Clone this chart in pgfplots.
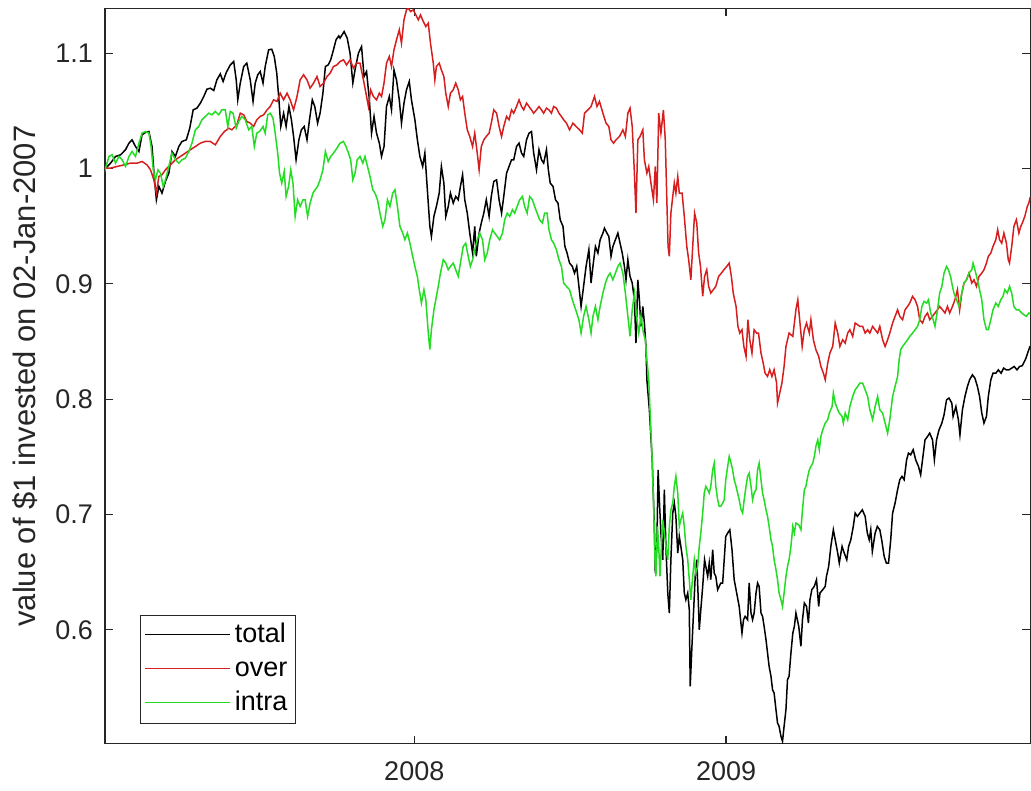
\documentclass[border=0pt]{standalone}
\usepackage{fontspec}
\setmainfont{Liberation Sans}
\usepackage{pgfplots}
\pgfplotsset{compat=1.18}
\definecolor{axgray}{RGB}{38,38,38}
\definecolor{cred}{RGB}{215,30,30}
\definecolor{cgreen}{RGB}{35,220,35}
\begin{document}
\begin{tikzpicture}
\begin{axis}[
  scale only axis,
  width=463pt, height=368pt,
  xmin=2007.008, xmax=2009.976,
  ymin=0.501, ymax=1.139,
  axis line style={axgray, line width=0.6pt},
  tick style={axgray, line width=0.6pt},
  tick align=inside,
  major tick length=4pt,
  xtick={2008,2009}, xticklabels={2008,2009},
  ytick={0.6,0.7,0.8,0.9,1,1.1}, yticklabels={0.6,0.7,0.8,0.9,1,1.1},
  ticklabel style={font=\fontsize{13.5}{16}\selectfont, text=axgray},
  yticklabel style={xshift=-2.5pt},
  xticklabel style={yshift=-5.5pt},
  ylabel={value of \$1 invested on 02-Jan-2007},
  ylabel style={font=\fontsize{15.5}{18}\selectfont, text=axgray, at={(axis description cs:-0.0745,0.5)}, anchor=base},
  legend image code/.code={\draw[#1] (0pt,0.5pt) -- (42.5pt,0.5pt);},
  legend style={at={(axis description cs:0.0378,0.0272)}, anchor=south west,
    draw=axgray, line width=0.6pt, fill=white,
    font=\fontsize{13.5}{16}\selectfont,
    inner xsep=2pt, inner ysep=1.5pt, cells={anchor=west},
    nodes={inner xsep=2pt, inner ysep=2pt, text height=10.2pt, text depth=2.8pt}},
]
\addplot[draw=black, line width=0.75pt] coordinates {
(2007.005,0.9989)(2007.026,1.0047)(2007.042,1.0105)(2007.058,1.0119)(2007.074,1.0163)(2007.085,1.0220)(2007.095,1.0249)(2007.106,1.0191)(2007.117,1.0148)(2007.127,1.0293)(2007.138,1.0313)(2007.149,1.0321)(2007.159,1.0191)(2007.167,0.9902)(2007.173,0.9729)(2007.181,0.9845)(2007.191,0.9787)(2007.202,0.9888)(2007.213,0.9960)(2007.223,1.0148)(2007.234,1.0105)(2007.245,1.0191)(2007.255,1.0235)(2007.269,1.0249)(2007.280,1.0350)(2007.291,1.0509)(2007.303,1.0524)(2007.314,1.0567)(2007.325,1.0625)(2007.335,1.0688)(2007.346,1.0697)(2007.357,1.0677)(2007.367,1.0769)(2007.378,1.0821)(2007.387,1.0755)(2007.397,1.0833)(2007.410,1.0899)(2007.421,1.0928)(2007.429,1.0769)(2007.434,1.0596)(2007.442,1.0741)(2007.453,1.0885)(2007.463,1.0914)(2007.474,1.0769)(2007.483,1.0582)(2007.490,1.0741)(2007.498,1.0813)(2007.506,1.0842)(2007.515,1.0741)(2007.522,1.0885)(2007.533,1.1030)(2007.543,1.1035)(2007.551,1.0972)(2007.559,1.0827)(2007.566,1.0596)(2007.572,1.0365)(2007.581,1.0480)(2007.589,1.0365)(2007.598,1.0538)(2007.606,1.0423)(2007.613,1.0278)(2007.621,1.0076)(2007.630,1.0249)(2007.638,1.0336)(2007.647,1.0365)(2007.656,1.0249)(2007.664,1.0423)(2007.673,1.0596)(2007.681,1.0538)(2007.690,1.0394)(2007.698,1.0480)(2007.707,1.0654)(2007.715,1.0885)(2007.724,1.0899)(2007.732,1.0943)(2007.741,1.1030)(2007.749,1.1116)(2007.758,1.1151)(2007.762,1.1131)
(2007.775,1.1188)(2007.785,1.1131)(2007.794,1.1001)(2007.803,1.0741)(2007.810,1.0856)(2007.821,1.1001)(2007.831,1.1058)(2007.839,1.0798)(2007.847,1.0842)(2007.856,1.0596)(2007.863,1.0307)(2007.871,1.0452)(2007.879,1.0307)(2007.888,1.0220)(2007.895,1.0105)(2007.903,1.0191)(2007.911,1.0538)(2007.920,1.0625)(2007.927,1.0509)(2007.935,1.0856)(2007.943,1.0769)(2007.952,1.0596)(2007.959,1.0394)(2007.967,1.0567)(2007.975,1.0683)(2007.984,1.0755)(2007.991,1.0596)(2008.002,1.0423)(2008.010,1.0249)(2008.018,1.0105)(2008.027,1.0018)(2008.034,1.0134)(2008.042,0.9816)(2008.050,0.9498)(2008.055,0.9411)(2008.063,0.9585)(2008.071,0.9671)(2008.080,0.9787)(2008.087,1.0018)(2008.095,0.9874)(2008.101,0.9585)(2008.109,0.9671)(2008.116,0.9787)(2008.125,0.9700)(2008.133,0.9758)(2008.141,0.9729)(2008.148,0.9845)(2008.155,0.9946)(2008.162,0.9729)(2008.170,0.9613)(2008.178,0.9440)(2008.187,0.9267)(2008.194,0.9498)(2008.199,0.9238)(2008.208,0.9440)(2008.215,0.9527)(2008.223,0.9613)(2008.231,0.9729)(2008.240,0.9585)(2008.247,0.9758)(2008.255,0.9888)(2008.264,0.9902)(2008.272,0.9729)(2008.280,0.9613)(2008.287,0.9758)(2008.296,0.9960)(2008.304,1.0018)(2008.312,1.0076)(2008.319,1.0076)(2008.328,1.0191)(2008.336,1.0220)(2008.344,1.0134)(2008.351,1.0105)(2008.360,1.0249)(2008.368,1.0307)(2008.376,1.0321)(2008.383,1.0134)(2008.392,0.9989)(2008.400,1.0163)(2008.408,1.0076)(2008.415,1.0047)(2008.424,1.0163)(2008.430,0.9989)(2008.436,0.9874)(2008.445,0.9845)(2008.453,0.9729)(2008.461,0.9700)(2008.468,0.9556)(2008.477,0.9498)(2008.483,0.9325)(2008.490,0.9267)(2008.498,0.9180)
(2008.507,0.9151)(2008.514,0.9093)(2008.521,0.9151)(2008.528,0.8978)(2008.535,0.8804)(2008.543,0.8978)(2008.551,0.9151)(2008.560,0.9296)(2008.567,0.9007)(2008.573,0.9151)(2008.581,0.9324)(2008.589,0.9267)(2008.596,0.9382)(2008.605,0.9440)(2008.610,0.9483)(2008.618,0.9440)(2008.624,0.9411)(2008.631,0.9238)(2008.637,0.9324)(2008.645,0.9382)(2008.653,0.9440)(2008.660,0.9353)(2008.667,0.9267)(2008.674,0.9151)(2008.679,0.9035)(2008.685,0.9209)(2008.692,0.9064)(2008.699,0.9007)(2008.706,0.8862)(2008.711,0.8486)(2008.717,0.9035)(2008.722,0.8862)(2008.727,0.8631)(2008.733,0.8804)(2008.738,0.8660)(2008.743,0.8457)
(2008.746,0.8168)(2008.754,0.7907)(2008.763,0.7474)(2008.770,0.6896)(2008.773,0.6491)(2008.778,0.6723)(2008.782,0.7387)(2008.786,0.7127)(2008.791,0.6838)(2008.797,0.6607)(2008.802,0.7214)(2008.807,0.6723)(2008.813,0.6318)(2008.818,0.6145)(2008.823,0.6607)(2008.829,0.7012)(2008.834,0.7098)(2008.839,0.6983)(2008.845,0.6665)(2008.850,0.6809)(2008.855,0.6723)(2008.861,0.6607)(2008.866,0.6318)(2008.871,0.6260)(2008.877,0.6318)(2008.882,0.6174)(2008.885,0.5509)(2008.891,0.5885)(2008.896,0.6174)(2008.901,0.6463)(2008.906,0.6607)(2008.910,0.6318)(2008.914,0.6000)(2008.919,0.6174)(2008.925,0.6376)(2008.931,0.6607)(2008.935,0.6549)(2008.941,0.6463)(2008.946,0.6578)(2008.951,0.6434)(2008.957,0.6694)(2008.962,0.6491)(2008.967,0.6463)(2008.973,0.6347)(2008.978,0.6376)(2008.983,0.6405)(2008.989,0.6405)(2008.994,0.6607)(2008.999,0.6809)(2009.005,0.6838)(2009.012,0.6867)(2009.019,0.6694)(2009.026,0.6434)(2009.034,0.6318)(2009.042,0.6202)(2009.051,0.5971)(2009.056,0.6087)(2009.061,0.6116)(2009.069,0.6087)(2009.074,0.6405)(2009.080,0.6145)(2009.085,0.6087)(2009.090,0.6145)(2009.096,0.6318)(2009.101,0.6405)(2009.106,0.6376)(2009.112,0.6145)(2009.117,0.6116)(2009.122,0.6029)(2009.128,0.5913)(2009.133,0.5798)(2009.138,0.5682)(2009.144,0.5596)(2009.149,0.5480)(2009.154,0.5451)(2009.160,0.5307)(2009.165,0.5191)(2009.170,0.5162)(2009.176,0.5075)(2009.181,0.5032)(2009.186,0.5162)(2009.192,0.5307)(2009.197,0.5567)(2009.202,0.5596)
(2009.208,0.5798)(2009.214,0.5971)(2009.219,0.6029)(2009.224,0.6145)(2009.233,0.6029)(2009.240,0.5856)(2009.245,0.6087)(2009.251,0.6231)(2009.258,0.6202)(2009.264,0.6058)(2009.269,0.6260)(2009.275,0.6347)(2009.283,0.6376)(2009.290,0.6434)(2009.297,0.6202)(2009.301,0.6318)(2009.310,0.6347)(2009.318,0.6376)(2009.322,0.6463)(2009.329,0.6549)(2009.336,0.6723)(2009.344,0.6867)(2009.350,0.6780)(2009.358,0.6665)(2009.363,0.6578)(2009.372,0.6723)(2009.379,0.6665)(2009.387,0.6607)(2009.393,0.6723)(2009.400,0.6780)(2009.408,0.6896)(2009.414,0.7012)(2009.421,0.6983)(2009.429,0.7012)(2009.437,0.7040)(2009.446,0.6983)(2009.453,0.6838)(2009.459,0.6780)(2009.464,0.6867)(2009.469,0.6679)(2009.478,0.6838)(2009.485,0.6896)(2009.493,0.6867)(2009.499,0.6780)(2009.507,0.6636)(2009.514,0.6578)(2009.521,0.6578)(2009.528,0.6780)(2009.534,0.7012)(2009.542,0.7098)(2009.550,0.7214)(2009.557,0.7301)(2009.564,0.7330)(2009.571,0.7301)(2009.579,0.7474)(2009.585,0.7532)(2009.592,0.7517)(2009.600,0.7561)(2009.608,0.7474)(2009.617,0.7416)(2009.624,0.7344)(2009.630,0.7474)(2009.638,0.7647)(2009.646,0.7676)(2009.653,0.7705)(2009.662,0.7647)(2009.668,0.7474)(2009.675,0.7647)(2009.683,0.7734)(2009.692,0.7792)(2009.699,0.7864)(2009.707,0.7994)(2009.715,0.8009)(2009.724,0.7965)(2009.728,0.7850)(2009.737,0.7936)(2009.745,0.7821)(2009.750,0.7691)(2009.758,0.7908)(2009.766,0.8023)(2009.774,0.8110)(2009.781,0.8168)(2009.790,0.8211)(2009.798,0.8182)(2009.806,0.8110)(2009.813,0.8023)(2009.820,0.7879)(2009.827,0.7792)(2009.835,0.7850)(2009.841,0.8023)(2009.849,0.8168)(2009.856,0.8225)(2009.865,0.8225)(2009.873,0.8254)(2009.882,0.8225)(2009.890,0.8269)(2009.899,0.8254)(2009.907,0.8254)(2009.916,0.8269)(2009.924,0.8283)(2009.933,0.8254)(2009.941,0.8283)(2009.950,0.8290)(2009.961,0.8350)(2009.971,0.8430)(2009.975,0.8460)
};
\addlegendentry{total}
\addplot[draw=cred, line width=0.75pt] coordinates {
(2007.005,1.0004)(2007.026,1.0004)(2007.047,1.0018)(2007.069,1.0032)(2007.090,1.0047)(2007.111,1.0047)(2007.127,1.0061)(2007.143,1.0032)(2007.154,0.9989)(2007.165,0.9902)(2007.173,0.9787)(2007.181,0.9931)(2007.191,0.9946)(2007.202,0.9989)(2007.218,1.0032)(2007.234,1.0076)(2007.250,1.0105)(2007.266,1.0134)(2007.282,1.0163)(2007.298,1.0191)(2007.314,1.0220)(2007.330,1.0235)(2007.346,1.0235)(2007.362,1.0206)(2007.378,1.0278)(2007.391,1.0321)(2007.405,1.0350)(2007.415,1.0336)(2007.431,1.0379)(2007.442,1.0480)(2007.453,1.0466)(2007.463,1.0408)(2007.474,1.0394)(2007.485,1.0365)(2007.495,1.0423)(2007.506,1.0452)(2007.517,1.0466)(2007.528,1.0509)(2007.538,1.0538)(2007.549,1.0596)(2007.560,1.0582)(2007.570,1.0654)(2007.581,1.0596)(2007.592,1.0654)(2007.602,1.0596)(2007.613,1.0509)(2007.624,1.0625)(2007.634,1.0769)(2007.645,1.0813)(2007.656,1.0769)(2007.666,1.0697)(2007.677,1.0741)(2007.688,1.0798)(2007.698,1.0712)(2007.709,1.0741)(2007.720,1.0798)(2007.730,1.0827)(2007.741,1.0885)(2007.752,1.0899)(2007.762,1.0928)
(2007.773,1.0943)(2007.783,1.0899)(2007.794,1.0943)(2007.805,1.0871)(2007.815,1.0914)(2007.826,1.0914)(2007.837,1.0769)(2007.845,1.0654)(2007.853,1.0538)(2007.860,1.0683)(2007.869,1.0625)(2007.879,1.0596)(2007.888,1.0654)(2007.895,1.0625)(2007.903,1.0741)(2007.911,1.0914)(2007.920,1.0972)(2007.927,1.0885)(2007.935,1.1030)(2007.943,1.1116)(2007.952,1.1203)(2007.959,1.1087)(2007.967,1.1290)(2007.975,1.1376)(2007.981,1.1391)(2007.988,1.1362)(2007.997,1.1376)(2008.005,1.1333)(2008.013,1.1290)(2008.020,1.1333)(2008.029,1.1275)(2008.037,1.1232)(2008.045,1.1261)(2008.052,1.1087)(2008.061,1.0914)(2008.066,1.0769)(2008.071,1.0885)(2008.080,1.0914)(2008.087,1.0856)(2008.095,1.0798)(2008.101,1.0654)(2008.109,1.0538)(2008.116,1.0654)(2008.125,1.0683)(2008.133,1.0741)(2008.141,1.0683)(2008.148,1.0596)(2008.155,1.0625)(2008.162,1.0480)(2008.170,1.0336)(2008.178,1.0278)(2008.187,1.0191)(2008.194,1.0307)(2008.202,1.0134)(2008.208,0.9989)(2008.215,1.0191)(2008.223,1.0249)(2008.231,1.0278)(2008.240,1.0307)(2008.247,1.0394)(2008.255,1.0509)(2008.264,1.0480)(2008.272,1.0365)(2008.280,1.0278)(2008.287,1.0365)(2008.296,1.0452)(2008.304,1.0423)(2008.312,1.0509)(2008.319,1.0480)(2008.328,1.0538)(2008.336,1.0596)(2008.344,1.0538)(2008.351,1.0509)(2008.360,1.0567)(2008.368,1.0538)(2008.376,1.0509)(2008.383,1.0480)(2008.392,1.0509)(2008.400,1.0538)(2008.408,1.0509)(2008.415,1.0480)(2008.424,1.0524)(2008.432,1.0509)(2008.440,1.0480)(2008.447,1.0538)(2008.456,1.0524)(2008.464,1.0480)(2008.472,1.0452)(2008.479,1.0423)(2008.488,1.0394)(2008.498,1.0336)
(2008.509,1.0394)(2008.519,1.0365)(2008.530,1.0336)(2008.539,1.0307)(2008.546,1.0480)(2008.557,1.0509)(2008.567,1.0538)(2008.578,1.0625)(2008.586,1.0538)(2008.594,1.0582)(2008.605,1.0480)(2008.615,1.0394)(2008.624,1.0365)(2008.631,1.0249)(2008.639,1.0220)(2008.647,1.0249)(2008.658,1.0278)(2008.669,1.0336)(2008.677,1.0278)(2008.685,1.0480)(2008.692,1.0524)(2008.699,1.0365)(2008.706,0.9960)(2008.711,0.9613)(2008.717,1.0249)(2008.724,1.0278)(2008.733,1.0336)(2008.738,1.0076)(2008.746,0.9960)(2008.752,1.0018)(2008.759,0.9874)(2008.767,0.9729)(2008.773,1.0018)(2008.778,0.9700)(2008.784,1.0480)(2008.791,1.0307)(2008.799,1.0509)(2008.805,1.0249)(2008.810,0.9729)(2008.814,0.9324)(2008.818,0.9238)(2008.823,0.9613)(2008.829,0.9758)(2008.834,0.9874)(2008.839,0.9787)(2008.845,0.9931)(2008.850,0.9787)(2008.859,0.9787)(2008.866,0.9585)(2008.874,0.9324)(2008.880,0.9209)(2008.887,0.9035)(2008.893,0.9324)(2008.899,0.9613)(2008.906,0.9527)(2008.912,0.9267)(2008.918,0.9151)(2008.925,0.8891)(2008.931,0.9064)(2008.938,0.9122)(2008.944,0.8978)(2008.951,0.8920)(2008.959,0.8949)(2008.967,0.8978)(2008.976,0.9064)(2008.985,0.9093)(2008.993,0.9122)(2009.002,0.9151)(2009.010,0.9180)(2009.017,0.9064)(2009.023,0.8920)(2009.032,0.8804)(2009.038,0.8631)(2009.044,0.8573)(2009.051,0.8602)(2009.057,0.8457)(2009.064,0.8371)(2009.070,0.8689)(2009.076,0.8515)(2009.083,0.8400)(2009.090,0.8602)(2009.098,0.8573)(2009.104,0.8573)(2009.112,0.8400)(2009.119,0.8313)(2009.125,0.8226)(2009.133,0.8197)(2009.140,0.8255)(2009.147,0.8197)(2009.154,0.8255)(2009.162,0.8139)(2009.165,0.7965)(2009.172,0.8052)(2009.179,0.8139)(2009.186,0.8283)(2009.192,0.8457)(2009.202,0.8573)
(2009.214,0.8544)(2009.224,0.8775)(2009.230,0.8862)(2009.235,0.8718)(2009.244,0.8457)(2009.251,0.8602)(2009.258,0.8660)(2009.267,0.8573)(2009.272,0.8689)(2009.280,0.8515)(2009.288,0.8429)(2009.297,0.8371)(2009.304,0.8284)(2009.312,0.8226)(2009.318,0.8168)(2009.326,0.8313)(2009.333,0.8400)(2009.342,0.8457)(2009.350,0.8660)(2009.358,0.8573)(2009.365,0.8457)(2009.374,0.8515)(2009.382,0.8486)(2009.390,0.8573)(2009.397,0.8602)(2009.406,0.8544)(2009.414,0.8660)(2009.422,0.8645)(2009.429,0.8631)(2009.438,0.8631)(2009.446,0.8573)(2009.454,0.8602)(2009.461,0.8573)(2009.470,0.8631)(2009.478,0.8602)(2009.486,0.8573)(2009.493,0.8631)(2009.502,0.8515)(2009.510,0.8457)(2009.518,0.8515)(2009.525,0.8573)(2009.534,0.8660)(2009.542,0.8718)(2009.550,0.8775)(2009.557,0.8718)(2009.566,0.8689)(2009.574,0.8775)(2009.582,0.8804)(2009.589,0.8833)(2009.598,0.8891)(2009.606,0.8862)(2009.614,0.8804)(2009.621,0.8689)(2009.630,0.8660)(2009.638,0.8718)(2009.646,0.8747)(2009.653,0.8689)(2009.662,0.8718)(2009.670,0.8747)(2009.678,0.8775)(2009.685,0.8804)(2009.694,0.8775)(2009.702,0.8747)(2009.710,0.8804)(2009.717,0.8747)(2009.726,0.8804)(2009.734,0.8862)(2009.742,0.8949)(2009.749,0.8775)(2009.756,0.8920)(2009.763,0.9007)(2009.771,0.9035)(2009.779,0.9093)(2009.788,0.9007)(2009.795,0.9035)(2009.803,0.8978)(2009.811,0.9064)(2009.820,0.9093)(2009.827,0.9122)(2009.835,0.9180)(2009.841,0.9238)(2009.849,0.9267)(2009.856,0.9324)(2009.865,0.9382)(2009.871,0.9469)(2009.877,0.9382)(2009.884,0.9353)(2009.891,0.9440)(2009.899,0.9353)(2009.905,0.9209)(2009.909,0.9180)(2009.916,0.9324)(2009.923,0.9498)(2009.931,0.9556)(2009.939,0.9440)(2009.945,0.9498)(2009.950,0.9527)(2009.958,0.9585)(2009.966,0.9671)(2009.971,0.9700)(2009.975,0.9750)
};
\addlegendentry{over}
\addplot[draw=cgreen, line width=0.75pt] coordinates {
(2007.005,0.9960)(2007.021,1.0105)(2007.031,1.0119)(2007.042,1.0047)(2007.053,1.0105)(2007.063,1.0076)(2007.074,1.0018)(2007.085,1.0105)(2007.095,1.0148)(2007.106,1.0105)(2007.117,1.0220)(2007.127,1.0307)(2007.138,1.0321)(2007.149,1.0307)(2007.156,1.0191)(2007.163,0.9989)(2007.170,0.9902)(2007.178,0.9989)(2007.186,0.9960)(2007.195,0.9845)(2007.202,0.9902)(2007.213,1.0018)(2007.223,1.0134)(2007.234,1.0076)(2007.245,1.0047)(2007.255,1.0076)(2007.266,1.0090)(2007.277,1.0148)(2007.287,1.0220)(2007.298,1.0336)(2007.309,1.0365)(2007.319,1.0423)(2007.330,1.0452)(2007.341,1.0480)(2007.351,1.0466)(2007.362,1.0495)(2007.373,1.0466)(2007.383,1.0509)(2007.394,1.0509)(2007.402,1.0365)(2007.410,1.0495)(2007.419,1.0480)(2007.429,1.0350)(2007.437,1.0408)(2007.447,1.0452)(2007.458,1.0423)(2007.469,1.0336)(2007.479,1.0365)(2007.487,1.0191)(2007.495,1.0307)(2007.504,1.0321)(2007.515,1.0365)(2007.522,1.0307)(2007.530,1.0466)(2007.538,1.0480)(2007.547,1.0437)(2007.554,1.0307)(2007.562,1.0134)(2007.568,0.9960)(2007.575,0.9874)(2007.583,0.9975)(2007.589,0.9758)(2007.597,0.9845)(2007.604,0.9989)(2007.611,0.9874)(2007.618,0.9585)(2007.626,0.9729)(2007.634,0.9671)(2007.643,0.9729)(2007.650,0.9729)(2007.658,0.9585)(2007.666,0.9700)(2007.675,0.9787)(2007.682,0.9816)(2007.690,0.9845)(2007.698,0.9902)(2007.707,0.9989)(2007.715,1.0148)(2007.724,1.0061)(2007.732,1.0105)(2007.741,1.0134)(2007.752,1.0177)(2007.762,1.0220)
(2007.773,1.0235)(2007.781,1.0191)(2007.789,1.0134)(2007.796,1.0076)(2007.803,0.9902)(2007.810,0.9960)(2007.817,1.0076)(2007.826,1.0105)(2007.835,1.0047)(2007.842,1.0105)(2007.850,1.0018)(2007.858,0.9931)(2007.867,0.9816)(2007.874,0.9787)(2007.882,0.9729)(2007.890,0.9613)(2007.899,0.9498)(2007.906,0.9556)(2007.914,0.9729)(2007.922,0.9671)(2007.931,0.9787)(2007.938,0.9816)(2007.946,0.9671)(2007.954,0.9498)(2007.963,0.9440)(2007.970,0.9382)(2007.978,0.9440)(2007.986,0.9353)(2007.995,0.9238)(2008.002,0.9151)(2008.010,0.9064)(2008.016,0.8949)(2008.023,0.8833)(2008.031,0.8949)(2008.037,0.8862)(2008.045,0.8573)(2008.050,0.8429)(2008.055,0.8602)(2008.063,0.8775)(2008.069,0.8862)(2008.077,0.8978)(2008.084,0.9093)(2008.093,0.9209)(2008.101,0.9180)(2008.109,0.9122)(2008.116,0.9151)(2008.125,0.9180)(2008.133,0.9122)(2008.141,0.9064)(2008.148,0.9180)(2008.157,0.9324)(2008.165,0.9353)(2008.173,0.9238)(2008.180,0.9151)(2008.187,0.9209)(2008.194,0.9296)(2008.202,0.9382)(2008.210,0.9440)(2008.219,0.9382)(2008.226,0.9209)(2008.234,0.9267)(2008.242,0.9382)(2008.251,0.9469)(2008.258,0.9440)(2008.266,0.9411)(2008.274,0.9382)(2008.283,0.9440)(2008.290,0.9556)(2008.298,0.9613)(2008.306,0.9585)(2008.315,0.9642)(2008.322,0.9613)(2008.330,0.9671)(2008.338,0.9729)(2008.347,0.9758)(2008.354,0.9671)(2008.362,0.9613)(2008.370,0.9758)(2008.379,0.9729)(2008.386,0.9671)(2008.394,0.9613)(2008.402,0.9556)(2008.411,0.9527)(2008.418,0.9613)(2008.426,0.9613)(2008.432,0.9469)(2008.440,0.9382)(2008.447,0.9353)(2008.456,0.9296)(2008.464,0.9209)(2008.472,0.9151)(2008.479,0.9007)(2008.488,0.8978)(2008.498,0.8949)
(2008.507,0.8862)(2008.514,0.8804)(2008.521,0.8747)(2008.528,0.8689)(2008.535,0.8573)(2008.543,0.8718)(2008.551,0.8804)(2008.560,0.8689)(2008.567,0.8573)(2008.573,0.8718)(2008.581,0.8804)(2008.589,0.8689)(2008.596,0.8804)(2008.605,0.8920)(2008.613,0.9007)(2008.621,0.9064)(2008.628,0.9093)(2008.637,0.9035)(2008.645,0.9093)(2008.653,0.9151)(2008.660,0.9180)(2008.669,0.9093)(2008.677,0.8920)(2008.685,0.8718)(2008.692,0.8544)(2008.699,0.8775)(2008.706,0.8920)(2008.714,0.8689)(2008.720,0.8573)(2008.727,0.8718)(2008.735,0.8573)(2008.741,0.8515)
(2008.746,0.8341)(2008.752,0.8168)(2008.756,0.7908)(2008.763,0.7474)(2008.768,0.7040)(2008.772,0.6607)(2008.775,0.6463)(2008.780,0.6896)(2008.784,0.6723)(2008.788,0.6463)(2008.793,0.6751)(2008.797,0.6954)(2008.802,0.6838)(2008.807,0.6723)(2008.813,0.6607)(2008.818,0.6896)(2008.823,0.7040)(2008.829,0.7098)(2008.834,0.7243)(2008.839,0.7330)(2008.845,0.7185)(2008.850,0.6896)(2008.855,0.6954)(2008.861,0.7012)(2008.866,0.6896)(2008.871,0.6723)(2008.877,0.6607)(2008.882,0.6434)(2008.887,0.6260)(2008.893,0.6463)(2008.898,0.6607)(2008.903,0.6491)(2008.909,0.6549)(2008.914,0.6723)(2008.919,0.6838)(2008.925,0.7012)(2008.930,0.7185)(2008.935,0.7243)(2008.941,0.7214)(2008.946,0.7185)(2008.951,0.7243)(2008.957,0.7387)(2008.962,0.7445)(2008.967,0.7243)(2008.973,0.7127)(2008.978,0.7069)(2008.983,0.7069)(2008.989,0.7098)(2008.994,0.7127)(2008.999,0.7301)(2009.005,0.7416)(2009.010,0.7503)(2009.016,0.7445)(2009.021,0.7387)(2009.026,0.7301)(2009.032,0.7243)(2009.037,0.7185)(2009.042,0.7127)(2009.048,0.7040)(2009.053,0.7012)(2009.058,0.7127)(2009.064,0.7243)(2009.069,0.7330)(2009.074,0.7358)(2009.080,0.7243)(2009.085,0.7127)(2009.090,0.7185)(2009.096,0.7214)(2009.101,0.7387)(2009.106,0.7445)(2009.112,0.7301)(2009.117,0.7185)(2009.122,0.7127)(2009.128,0.7040)(2009.133,0.6983)(2009.138,0.6896)(2009.144,0.6780)(2009.149,0.6723)(2009.154,0.6607)(2009.160,0.6520)(2009.165,0.6434)(2009.170,0.6318)(2009.176,0.6260)(2009.181,0.6202)(2009.186,0.6318)(2009.192,0.6463)(2009.197,0.6549)(2009.202,0.6607)
(2009.208,0.6723)(2009.214,0.6896)(2009.219,0.6838)(2009.224,0.6925)(2009.233,0.6910)(2009.240,0.6867)(2009.245,0.7040)(2009.251,0.7214)(2009.256,0.7243)(2009.262,0.7330)(2009.267,0.7387)(2009.272,0.7416)(2009.278,0.7445)(2009.283,0.7503)(2009.288,0.7590)(2009.294,0.7647)(2009.299,0.7561)(2009.304,0.7676)(2009.310,0.7734)(2009.318,0.7792)(2009.326,0.7821)(2009.331,0.7879)(2009.340,0.7936)(2009.344,0.8052)(2009.350,0.7965)(2009.358,0.7908)(2009.363,0.7879)(2009.372,0.7850)(2009.376,0.7792)(2009.382,0.7879)(2009.390,0.7821)(2009.397,0.7936)(2009.406,0.8023)(2009.414,0.8081)(2009.422,0.8110)(2009.429,0.8139)(2009.438,0.8139)(2009.446,0.8081)(2009.454,0.8023)(2009.461,0.7908)(2009.470,0.7821)(2009.478,0.7936)(2009.486,0.8023)(2009.493,0.7908)(2009.502,0.7879)(2009.510,0.7792)(2009.518,0.7705)(2009.525,0.7821)(2009.534,0.8023)(2009.542,0.8110)(2009.550,0.8196)(2009.555,0.8341)
(2009.560,0.8429)(2009.566,0.8457)(2009.574,0.8486)(2009.582,0.8515)(2009.589,0.8544)(2009.598,0.8573)(2009.606,0.8602)(2009.614,0.8631)(2009.621,0.8689)(2009.628,0.8804)(2009.635,0.8848)(2009.643,0.8833)(2009.649,0.8862)(2009.656,0.8747)(2009.664,0.8689)(2009.670,0.8631)(2009.678,0.8775)(2009.685,0.8920)(2009.692,0.8978)(2009.699,0.9093)(2009.707,0.9151)(2009.713,0.9122)(2009.720,0.9064)(2009.726,0.8978)(2009.731,0.8920)(2009.739,0.8862)(2009.747,0.8804)(2009.756,0.8920)(2009.763,0.9007)(2009.771,0.9035)(2009.779,0.9093)(2009.788,0.9122)(2009.792,0.9180)(2009.798,0.9122)(2009.806,0.9035)(2009.813,0.8949)(2009.820,0.8862)(2009.827,0.8689)(2009.835,0.8602)(2009.841,0.8602)(2009.849,0.8689)(2009.856,0.8775)(2009.865,0.8833)(2009.873,0.8804)(2009.881,0.8862)(2009.888,0.8891)(2009.894,0.8949)(2009.902,0.8920)(2009.909,0.8978)(2009.916,0.8920)(2009.923,0.8804)(2009.931,0.8775)(2009.939,0.8775)(2009.948,0.8747)(2009.955,0.8732)(2009.963,0.8718)(2009.971,0.8747)(2009.975,0.8740)
};
\addlegendentry{intra}
\end{axis}
\pgfresetboundingbox
\path[use as bounding box] ([shift={(-52.5pt,-23.5pt)}]current axis.south west) rectangle ([shift={(0.3pt,4.15pt)}]current axis.north east);
\end{tikzpicture}
\end{document}
